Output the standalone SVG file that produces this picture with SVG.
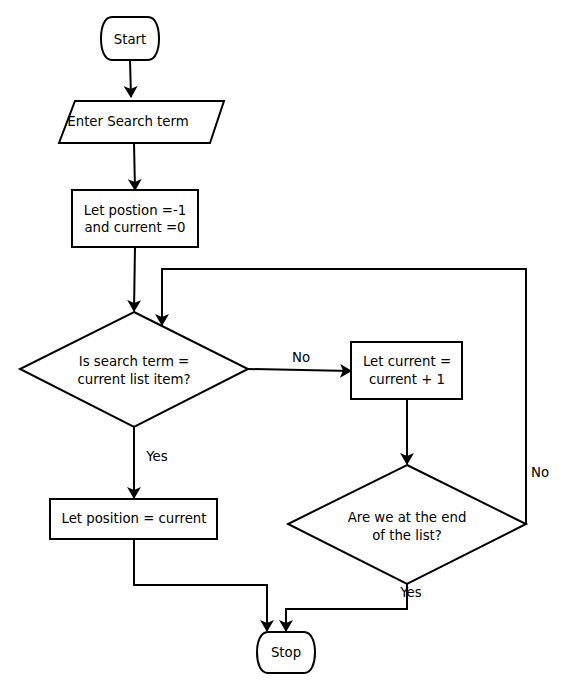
<svg xmlns="http://www.w3.org/2000/svg" width="571" height="683" viewBox="0 0 571 683">
<style>
.s{fill:#fff;stroke:#000;stroke-width:2}
.c{fill:none;stroke:#000;stroke-width:2}
text{font-family:"DejaVu Sans",sans-serif;font-size:13.3px;fill:#000;text-anchor:middle}
</style>
<defs>
<marker id="ah" viewBox="0 0 12 14" refX="11" refY="7" markerWidth="12" markerHeight="14" markerUnits="userSpaceOnUse" orient="auto">
<path d="M0,0 L12,7 L0,14 L3,7 z" fill="#000"/>
</marker>
</defs>
<rect width="571" height="683" fill="#fff"/>
<g id="start">
<path class="s" d="M112,17 L148,17 C156,17 159,28 159,38.5 C159,49 156,60 148,60 L112,60 C104,60 101,49 101,38.5 C101,28 104,17 112,17 Z"/>
<text x="130" y="44">Start</text>
</g>
<g id="input">
<path class="s" d="M75,101 L224,101 L210,143 L59,143 Z"/>
<text x="128" y="126">Enter Search term</text>
</g>
<g id="init">
<rect class="s" x="72" y="190" width="126" height="57"/>
<text x="135" y="215">Let postion =-1</text>
<text x="135" y="232">and current =0</text>
</g>
<g id="decision1">
<path class="s" d="M134,312 L248,369 L134,427 L20,369 Z"/>
<text x="134" y="366">Is search term =</text>
<text x="134" y="384">current list item?</text>
</g>
<g id="increment">
<rect class="s" x="351" y="342" width="111" height="57"/>
<text x="407" y="366">Let current =</text>
<text x="407" y="384">current + 1</text>
</g>
<g id="decision2">
<path class="s" d="M407,465 L526,524 L407,584 L288,524 Z"/>
<text x="407" y="522">Are we at the end</text>
<text x="407" y="540">of the list?</text>
</g>
<g id="found">
<rect class="s" x="50" y="499" width="167" height="40"/>
<text x="134" y="523">Let position = current</text>
</g>
<g id="stop">
<path class="s" d="M268,632 L304,632 C312,632 315,643 315,652.5 C315,662 312,673 304,673 L268,673 C260,673 257,662 257,652.5 C257,643 260,632 268,632 Z"/>
<text x="286" y="657">Stop</text>
</g>
<g id="labels">
<text x="301" y="362">No</text>
<text x="540" y="477">No</text>
<text x="157" y="461">Yes</text>
<text x="411" y="597">Yes</text>
</g>
<g id="connectors">
<path class="c" d="M130,60 L131,97" marker-end="url(#ah)"/>
<path class="c" d="M134,143 L135,190" marker-end="url(#ah)"/>
<path class="c" d="M135,247 L134,311" marker-end="url(#ah)"/>
<path class="c" d="M248,369 L351,371" marker-end="url(#ah)"/>
<path class="c" d="M407,399 L407,464" marker-end="url(#ah)"/>
<path class="c" d="M526,524 L526,269 L162,269 L162,325" marker-end="url(#ah)"/>
<path class="c" d="M134,427 L134,498" marker-end="url(#ah)"/>
<path class="c" d="M134,539 L134,585 L267,585 L267,631" marker-end="url(#ah)"/>
<path class="c" d="M407,584 L407,609 L286,609 L286,631" marker-end="url(#ah)"/>
</g>
</svg>
